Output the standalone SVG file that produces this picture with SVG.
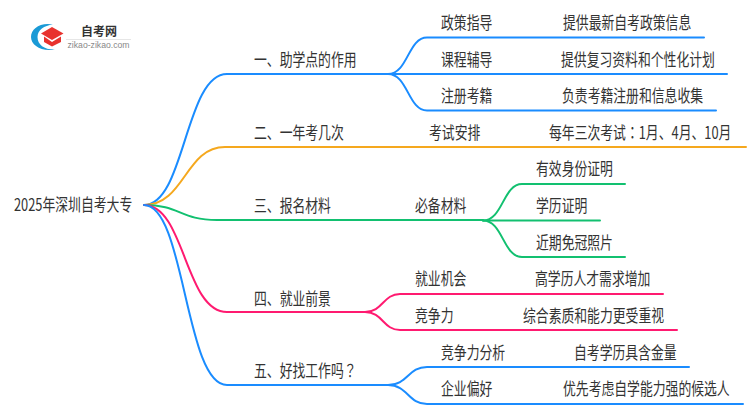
<svg xmlns="http://www.w3.org/2000/svg" width="750" height="410" viewBox="0 0 750 410">
<style>
text{font-family:"Noto Sans CJK SC","Noto Sans",sans-serif;font-size:17px;fill:#333}
.t{font-family:"Noto Sans CJK TC","Noto Sans",sans-serif}
path.c{fill:none;stroke-width:2;stroke-linecap:round}
.b{stroke:#1a8cff}.o{stroke:#f5a81e}.g{stroke:#12c070}.p{stroke:#ff1a70}
</style>
<rect width="750" height="410" fill="#fff"/>
<g id="logo">
<path d="M53 24.500C40 22 31 29 31 37C31 45 41 52 55 49.500C45 50 37.500 45 37.500 37C37.500 30 44 25.500 53 24.500Z" fill="#1a9ad6"/>
<path d="M41 33.500L52 27L63.500 33.500L52 40Z" fill="#e8322e"/>
<path d="M44 36.500L52 42L61 36.500V42L52 46.500L44 42Z" fill="#e8322e"/>
<text x="81" y="36" style="font-size:12px;font-weight:700">自考网</text>
<rect x="66" y="39" width="65" height="1" fill="#e6e6e6"/>
<text x="67.500" y="48" textLength="62" lengthAdjust="spacingAndGlyphs" style="font-family:'Liberation Sans',sans-serif;font-size:9px;fill:#888">zikao-zikao.com</text>
</g>
<g id="connectors">
<path class="c b" d="M144 205C185 205 185 74 227 74H388"/>
<path class="c o" d="M144 205C185 205 185 147 225 147H746"/>
<path class="c g" d="M144 205C180 205 180 220 217 220H483"/>
<path class="c p" d="M144 205C185 205 185 312 227 312H365"/>
<path class="c b" d="M144 205C185 205 185 385 227 385H388"/>
<path class="c b" d="M388 74C408 74 408 37.500 427 37.500H704"/>
<path class="c b" d="M388 74H727"/>
<path class="c b" d="M388 74C408 74 408 110.500 427 110.500H716"/>
<path class="c g" d="M483 220.500C503 220.500 503 184 522 184H625"/>
<path class="c g" d="M483 220.500H600"/>
<path class="c g" d="M483 220.500C503 220.500 503 257 522 257H625"/>
<path class="c p" d="M365 312C383 312 383 294 400 294H663"/>
<path class="c p" d="M365 312C383 312 383 330 400 330H677"/>
<path class="c b" d="M388 385C408 385 408 367 427 367H689"/>
<path class="c b" d="M388 385C408 385 408 404 427 404H743"/>
</g>
<g id="root"><text transform="translate(14 211) scale(.755 1)">2025年深圳自考大专</text></g>
<g id="n1"><text transform="translate(254 66) scale(.755 1)">一、助学点的作用</text></g>
<g id="n1a"><text transform="translate(441 29) scale(.755 1)">政策指导</text></g>
<g id="n1a1"><text transform="translate(563 29) scale(.755 1)">提供最新自考政策信息</text></g>
<g id="n1b"><text transform="translate(441 66) scale(.755 1)">课程辅导</text></g>
<g id="n1b1"><text transform="translate(561 66) scale(.755 1)">提供复习资料和个性化计划</text></g>
<g id="n1c"><text transform="translate(441 102) scale(.755 1)">注册考籍</text></g>
<g id="n1c1"><text transform="translate(562 102) scale(.755 1)">负责考籍注册和信息收集</text></g>
<g id="n2"><text transform="translate(254 139) scale(.755 1)">二、一年考几次</text></g>
<g id="n2a"><text transform="translate(429 139) scale(.755 1)">考试安排</text></g>
<g id="n2a1"><text transform="translate(549 139) scale(.755 1)">每年三次考试<tspan class="t">：</tspan>1月、4月、10月</text></g>
<g id="n3"><text transform="translate(254 212) scale(.755 1)">三、报名材料</text></g>
<g id="n3a"><text transform="translate(415 212) scale(.755 1)">必备材料</text></g>
<g id="n3a1"><text transform="translate(536 175) scale(.755 1)">有效身份证明</text></g>
<g id="n3a2"><text transform="translate(536 212) scale(.755 1)">学历证明</text></g>
<g id="n3a3"><text transform="translate(536 249) scale(.755 1)">近期免冠照片</text></g>
<g id="n4"><text transform="translate(254 305) scale(.755 1)">四、就业前景</text></g>
<g id="n4a"><text transform="translate(415 285) scale(.755 1)">就业机会</text></g>
<g id="n4a1"><text transform="translate(535 285) scale(.755 1)">高学历人才需求增加</text></g>
<g id="n4b"><text transform="translate(415 322) scale(.755 1)">竞争力</text></g>
<g id="n4b1"><text transform="translate(523 322) scale(.755 1)">综合素质和能力更受重视</text></g>
<g id="n5"><text transform="translate(254 377) scale(.755 1)">五、好找工作吗<tspan class="t">？</tspan></text></g>
<g id="n5a"><text transform="translate(441 359) scale(.755 1)">竞争力分析</text></g>
<g id="n5a1"><text transform="translate(574 359) scale(.755 1)">自考学历具含金量</text></g>
<g id="n5b"><text transform="translate(441 395) scale(.755 1)">企业偏好</text></g>
<g id="n5b1"><text transform="translate(563 395) scale(.755 1)">优先考虑自学能力强的候选人</text></g>
</svg>
